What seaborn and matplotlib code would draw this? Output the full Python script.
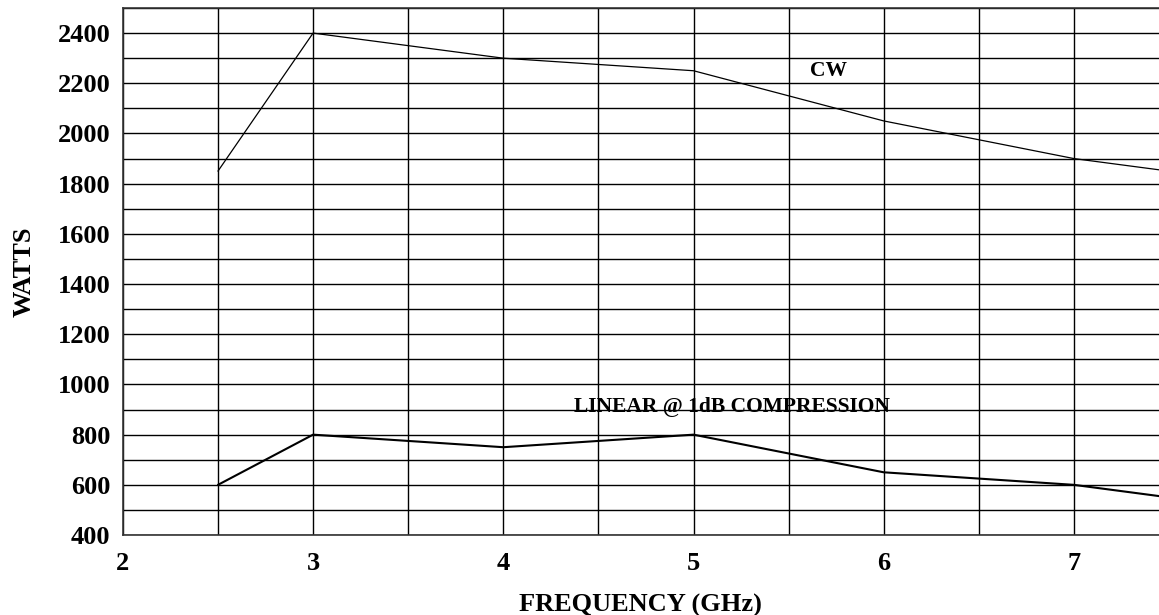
import numpy as np
import pandas as pd
import matplotlib
matplotlib.use("Agg")
import matplotlib.pyplot as plt
import seaborn as sns

# data
freq = [2.5, 3, 4, 5, 6, 7, 7.5]
cw_watts = [1850, 2400, 2300, 2250, 2050, 1900, 1850]
linear_watts = [600, 800, 750, 800, 650, 600, 550]

df = pd.DataFrame({"Frequency": freq, "CW": cw_watts, "Linear": linear_watts})

sns.set_style("white", {"text.color": "black", "xtick.color": "black",
                        "ytick.color": "black", "axes.labelcolor": "black"})
plt.rcParams['font.family'] = ['Liberation Serif', 'DejaVu Serif']
plt.rcParams['font.weight'] = 'bold'

fig, ax = plt.subplots(figsize=(11.59, 6.15), dpi=100)
fig.subplots_adjust(left=0.106, right=1.0, top=0.987, bottom=0.13)

sns.lineplot(data=df, x="Frequency", y="CW", ax=ax, color="black", linewidth=0.9)
sns.lineplot(data=df, x="Frequency", y="Linear", ax=ax, color="black", linewidth=1.5)

ax.set_xticks([2, 3, 4, 5, 6, 7])
ax.set_xticks(np.arange(2, 7.6, 0.5), minor=True)
ax.set_yticks(np.arange(400, 2401, 200))
ax.set_yticks(np.arange(400, 2501, 100), minor=True)
ax.set_xlim(2, 7.447)
ax.set_ylim(400, 2500)
ax.grid(True, which="both", color="black", linewidth=1.0)
ax.tick_params(which="both", length=0, colors="black")
ax.tick_params(axis="y", pad=9, labelsize=19)
ax.tick_params(axis="x", pad=12, labelsize=19)
for lbl in ax.get_xticklabels() + ax.get_yticklabels():
    lbl.set_fontweight("bold")
for s in ["left", "top", "bottom"]:
    ax.spines[s].set_color("#333333")
    ax.spines[s].set_linewidth(1.2)
ax.spines["right"].set_visible(False)

ax.set_xlabel("FREQUENCY (GHz)", fontsize=19, fontweight="bold", labelpad=14, color="black")
ax.set_ylabel("WATTS", fontsize=19, fontweight="bold", labelpad=16, color="black")

ax.text(5.71, 2248, "CW", fontsize=15.5, fontweight="bold", ha="center", va="center",
        color="black")
ax.text(5.2, 912, "LINEAR @ 1dB COMPRESSION", fontsize=15.5, fontweight="bold",
        ha="center", va="center", color="black")

fig.savefig("out.png", dpi=100)
